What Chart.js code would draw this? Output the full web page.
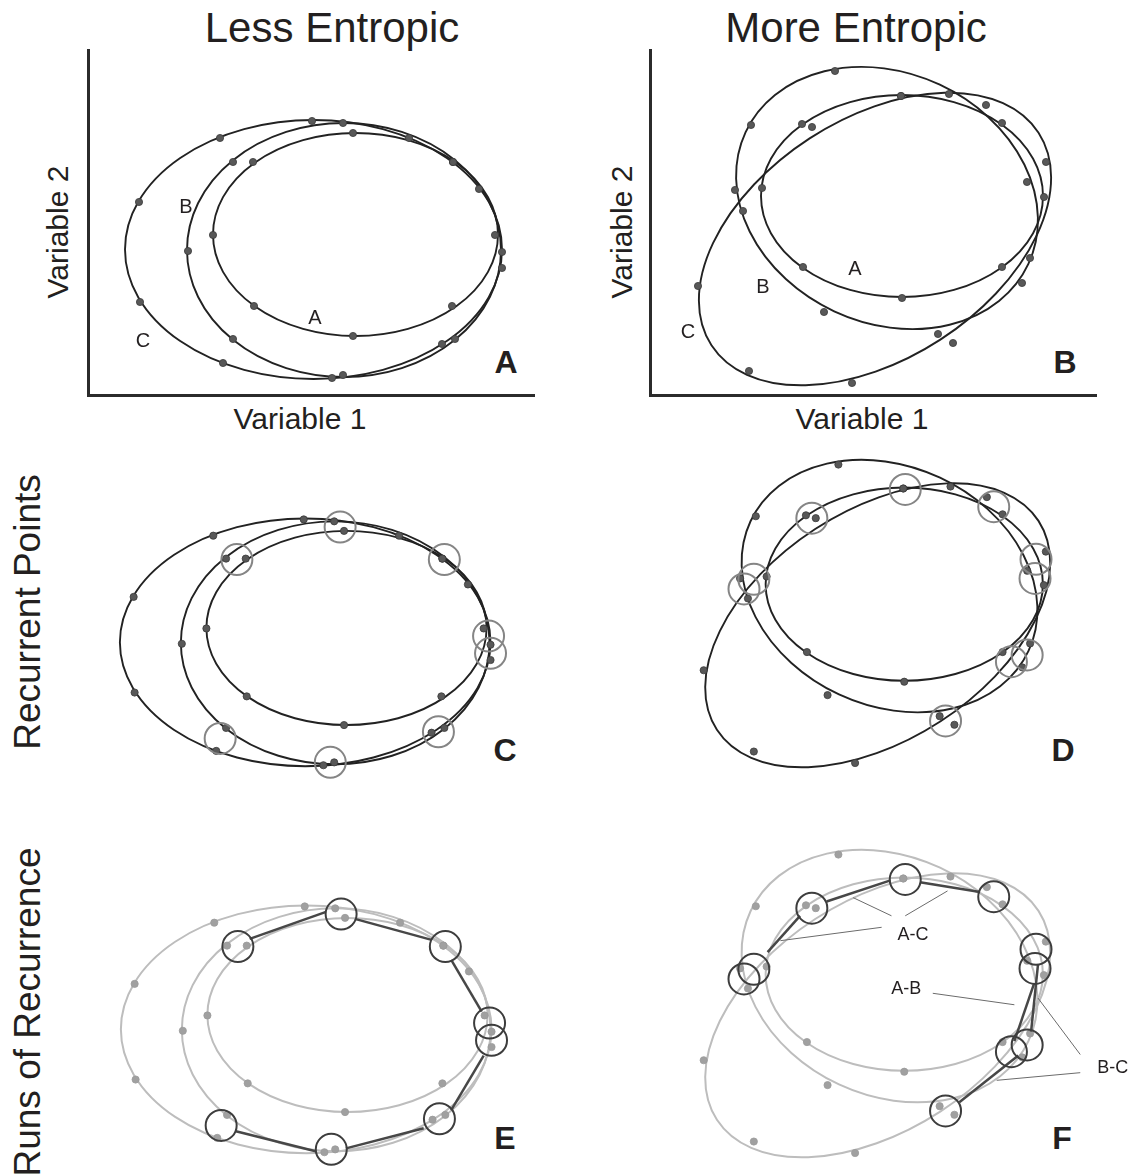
<!DOCTYPE html>
<html>
<head>
<meta charset="utf-8">
<script src="https://cdn.jsdelivr.net/npm/chart.js@4.4.1/dist/chart.umd.min.js"></script>
<style>
  body { margin: 0; background: #fff; width: 1139px; height: 1176px; overflow: hidden; position: relative;
         font-family: "Liberation Sans", Arial, Helvetica, sans-serif; color: #231f20; }
  canvas { position: absolute; }
  .txt { position: absolute; white-space: nowrap; line-height: 1; }
  .mid { transform: translate(-50%, -50%); }
  .up { transform: translate(-50%, -50%) rotate(-90deg); }
  .head { font-size: 42px; }
  .axis { font-size: 30px; }
  .row { font-size: 37px; }
  .tag { font-size: 32px; font-weight: bold; }
</style>
</head>
<body>

<div class="txt mid head" style="left:332px; top:28px">Less Entropic</div>
<div class="txt mid head" style="left:856px; top:28px">More Entropic</div>
<div class="txt up axis" style="left:58px; top:232px">Variable 2</div>
<div class="txt up axis" style="left:622px; top:232px">Variable 2</div>
<div class="txt mid axis" style="left:300px; top:419px">Variable 1</div>
<div class="txt mid axis" style="left:862px; top:419px">Variable 1</div>
<div class="txt up row" style="left:27px; top:612px">Recurrent Points</div>
<div class="txt up row" style="left:27px; top:1012px">Runs of Recurrence</div>
<div class="txt mid tag" style="left:506px; top:362px">A</div>
<div class="txt mid tag" style="left:1065px; top:362px">B</div>
<div class="txt mid tag" style="left:505px; top:750px">C</div>
<div class="txt mid tag" style="left:1063px; top:750px">D</div>
<div class="txt mid tag" style="left:505px; top:1138px">E</div>
<div class="txt mid tag" style="left:1062px; top:1138px">F</div>

<script>
// orbits A, B, C : centre, half-widths and tilt (degrees), in Variable 1 / Variable 2 units
const orbitNames = ["A", "B", "C"];

const lessOrbitX = [267.5, 256, 225.5];
const lessOrbitY = [160.5, 145, 145.5];
const lessSpanX = [142.5, 157, 188.5];
const lessSpanY = [101.5, 127, 129.5];
const lessTilt = [0, 0, 0];

const moreOrbitX = [252, 237, 225];
const moreOrbitY = [199, 197, 156];
const moreSpanX = [141, 156, 195];
const moreSpanY = [101, 125, 120];
const moreTilt = [0, -25, 33];

// sampled states on each orbit
const lessDotsA = [[265, 262], [165, 233], [125, 160], [166, 89], [265, 59], [364, 89], [407, 160], [365, 233]];
const lessDotsB = [[255, 272], [145, 233], [100, 144], [145, 56], [255, 20], [367, 56], [414, 143], [365, 233]];
const lessDotsC = [[224, 274], [132, 257], [51, 193], [52, 93], [135, 32], [244, 17], [354, 51], [414, 127], [391, 206], [321, 257]];

const moreDotsA = [[251, 299], [152, 271], [112, 207], [153, 128], [252, 97], [352, 128], [394, 198], [352, 272]];
const moreDotsB = [[185, 324], [299, 301], [377, 213], [380, 137], [288, 61], [174, 83], [93, 184], [101, 270]];
const moreDotsC = [[48, 109], [99, 24], [202, 12], [303, 52], [372, 112], [396, 233], [336, 290], [251, 299], [162, 268], [85, 205]];

// recurrent points (circled)
const lessRecurrent = [[261, 266], [156, 232], [367, 232], [412, 152], [414, 134], [139, 45], [361, 52], [251, 20]];
const moreRecurrent = [[253, 298], [158, 268], [343, 280], [386, 225], [385, 205], [99, 204], [89, 194], [361, 118], [377, 125], [294, 56]];

// runs of recurrence: x1, y1, x2, y2
const lessRuns = [[168, 240, 245, 268], [275, 261, 353, 239], [373, 218, 404, 164], [406, 118, 373, 61], [345, 42, 266, 21], [235, 18, 154, 39]];
const moreRuns = [[113, 222, 146, 260], [173, 275, 238, 297], [268, 295, 329, 285], [388, 209, 381, 139], [384, 189, 364, 129], [368, 114, 308, 65]];

// orbit name positions
const lessNameX = [227, 98, 55];
const lessNameY = [77, 188, 54];
const moreNameX = [205, 113, 38];
const moreNameY = [126, 108, 63];

// run labels and their pointer lines (panel F)
const runLabels = ["A-C", "A-B", "B-C"];
const runLabelX = [261, 254, 464];
const runLabelY = [240, 183, 101];
const runPointers = [[239, 260, 200, 279], [253, 260, 296, 286], [229, 248, 126, 234], [281, 179, 364, 167], [431, 115, 388, 174], [431, 96, 346, 88]];

const X_MAX = 446;
const Y_MAX = 345;

// draw the orbit ellipses through the chart scales
function orbitPlugin(orbits, color, width) {
    return {
        id: "orbits",
        beforeDatasetsDraw(chart) {
            const ctx = chart.ctx;
            const xs = chart.scales.x;
            const ys = chart.scales.y;
            ctx.save();
            ctx.strokeStyle = color;
            ctx.lineWidth = width;
            orbits.forEach(o => {
                const cx = xs.getPixelForValue(o.cx);
                const cy = ys.getPixelForValue(o.cy);
                const rx = Math.abs(xs.getPixelForValue(o.cx + o.rx) - cx);
                const ry = Math.abs(ys.getPixelForValue(o.cy + o.ry) - cy);
                ctx.beginPath();
                ctx.ellipse(cx, cy, rx, ry, -o.tilt * Math.PI / 180, 0, Math.PI * 2);
                ctx.stroke();
            });
            ctx.restore();
        }
    };
}

// text written at data positions
function notePlugin(notes, font) {
    return {
        id: "notes",
        afterDatasetsDraw(chart) {
            const ctx = chart.ctx;
            ctx.save();
            ctx.font = font;
            ctx.fillStyle = "#231f20";
            ctx.textAlign = "center";
            ctx.textBaseline = "middle";
            notes.forEach(n => {
                ctx.fillText(n.text, chart.scales.x.getPixelForValue(n.x), chart.scales.y.getPixelForValue(n.y));
            });
            ctx.restore();
        }
    };
}

function toPoints(arr) {
    return arr.map(p => ({ x: p[0], y: p[1] }));
}

function segmentSets(segs, color, width, order) {
    return segs.map(s => ({
        data: [{ x: s[0], y: s[1] }, { x: s[2], y: s[3] }],
        showLine: true,
        borderColor: color,
        borderWidth: width,
        pointRadius: 0,
        tension: 0,
        clip: false,
        order: order
    }));
}

function makePanel(left, top, side, mode) {
    const less = side === "less";
    const orbits = orbitNames.map((n, i) => ({
        cx: (less ? lessOrbitX : moreOrbitX)[i],
        cy: (less ? lessOrbitY : moreOrbitY)[i],
        rx: (less ? lessSpanX : moreSpanX)[i],
        ry: (less ? lessSpanY : moreSpanY)[i],
        tilt: (less ? lessTilt : moreTilt)[i]
    }));
    const dots = less ? [lessDotsA, lessDotsB, lessDotsC] : [moreDotsA, moreDotsB, moreDotsC];

    const faded = mode === "runs";
    const lineColor = faded ? "#bdbdbd" : "#222";
    const dotColor = faded ? "#a0a0a0" : "#585858";

    let datasets = [];

    dots.forEach(d => {
        datasets.push({
            data: toPoints(d),
            showLine: false,
            pointRadius: 3.6,
            pointBackgroundColor: dotColor,
            pointBorderColor: faded ? "#9a9a9a" : "#3a3a3a",
            pointBorderWidth: 0.8,
            clip: false,
            order: 3
        });
    });

    if (mode !== "plain") {
        datasets.push({
            data: toPoints(less ? lessRecurrent : moreRecurrent),
            showLine: false,
            pointRadius: 15.5,
            pointBackgroundColor: "rgba(0,0,0,0)",
            pointBorderColor: faded ? "#3d3d3d" : "#858585",
            pointBorderWidth: 2,
            clip: false,
            order: 1
        });
    }

    if (faded) {
        datasets = datasets.concat(segmentSets(less ? lessRuns : moreRuns, "#474747", 2.5, 2));
        if (!less) {
            datasets = datasets.concat(segmentSets(runPointers, "#6b6b6b", 1, 4));
        }
    }

    const plugins = [orbitPlugin(orbits, lineColor, faded ? 2 : 1.9)];
    if (mode === "plain") {
        plugins.push(notePlugin(orbitNames.map((n, i) => ({
            text: n,
            x: (less ? lessNameX : moreNameX)[i],
            y: (less ? lessNameY : moreNameY)[i]
        })), '20px "Liberation Sans", Arial, sans-serif'));
    }
    if (faded && !less) {
        plugins.push(notePlugin(runLabels.map((t, i) => ({
            text: t, x: runLabelX[i], y: runLabelY[i]
        })), '18px "Liberation Sans", Arial, sans-serif'));
    }

    const axes = mode === "plain";
    const canvas = document.createElement("canvas");
    canvas.width = X_MAX + 60;
    canvas.height = Y_MAX + 20;
    canvas.style.left = left + "px";
    canvas.style.top = top + "px";
    document.body.appendChild(canvas);

    const scaleOpts = max => ({
        type: "linear",
        min: 0,
        max: max,
        display: axes,
        grid: { display: false, drawTicks: false },
        ticks: { display: false },
        border: { display: axes, color: "#2b2b2b", width: 3 }
    });

    new Chart(canvas, {
        type: "scatter",
        data: { datasets: datasets },
        options: {
            responsive: false,
            animation: false,
            events: [],
            layout: { padding: { left: 10, top: 10, right: 50, bottom: 10 } },
            plugins: { legend: { display: false }, tooltip: { enabled: false } },
            scales: { x: scaleOpts(X_MAX), y: scaleOpts(Y_MAX) }
        },
        plugins: plugins
    });
}

makePanel(78, 40, "less", "plain");
makePanel(66, 434, "less", "rings");
makePanel(67, 821, "less", "runs");
makePanel(640, 40, "more", "plain");
makePanel(639, 427, "more", "rings");
makePanel(639, 817, "more", "runs");
</script>
</body>
</html>
